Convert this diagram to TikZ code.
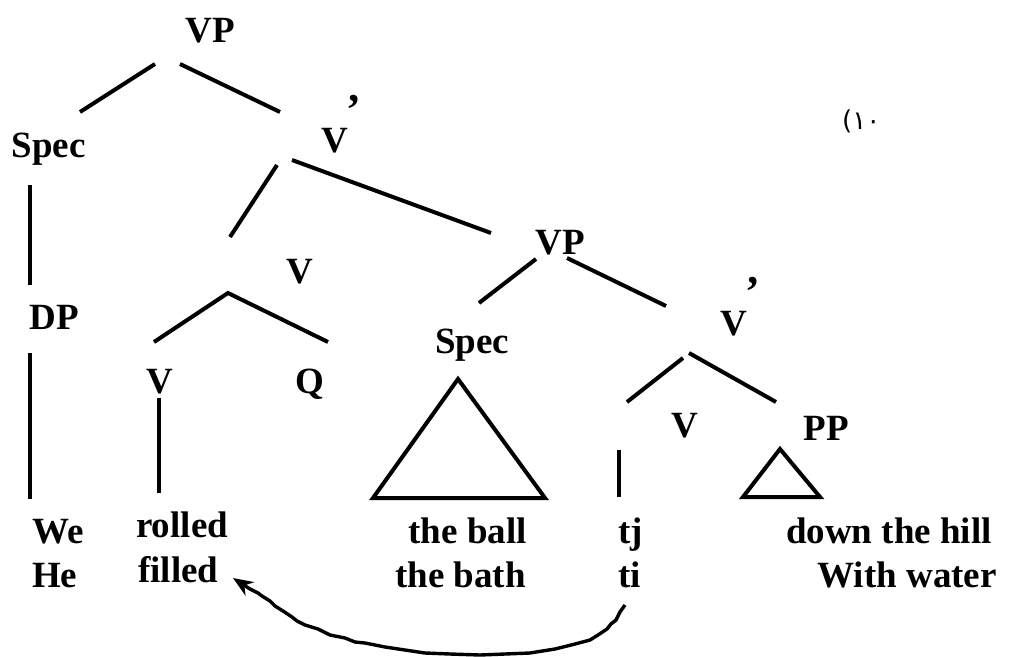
\documentclass[tikz,border=0pt]{standalone}
\usepackage{fontspec}
\setmainfont{Liberation Serif}
\newfontfamily\numfont{DejaVu Sans}
\usetikzlibrary{arrows.meta}
\begin{document}
\begin{tikzpicture}[x=1pt,y=-1pt,
  lbl/.style={inner sep=0pt,font=\fontsize{37}{40}\selectfont\bfseries,anchor=base},
  prm/.style={inner sep=0pt,font=\fontsize{44}{48}\selectfont\bfseries,anchor=base},
  edge/.style={line width=4pt},
  tri/.style={line width=4pt,line join=miter},
  mv/.style={line width=3.4pt,line join=round,-{Stealth[length=20pt,width=16pt]}}]
\useasboundingbox (0,0) rectangle (1009,656);
% labels
\node[lbl] (vp1) at (210,42) {VP};
\node[lbl] (spec1) at (48.5,157) {Spec};
\node[lbl] (vbar1) at (335,152) {V};
\node[prm] (pr1) at (354,124) {\symbol{"27}};
\node[inner sep=0pt,anchor=base west,font=\numfont\fontsize{26}{30}\selectfont] (num) at (842,129) {(١٠};
\node[lbl] (v2) at (300,283) {V};
\node[lbl] (vp2) at (560,254) {VP};
\node[lbl] (dp) at (54,329) {DP};
\node[lbl] (v3) at (160,393) {V};
\node[lbl] (q) at (310,393) {Q};
\node[lbl] (spec2) at (472,353) {Spec};
\node[lbl] (vbar2) at (734,335) {V};
\node[prm] (pr2) at (753,306) {\symbol{"27}};
\node[lbl] (v4) at (685,437) {V};
\node[lbl] (pp) at (826,440) {PP};
\node[lbl,anchor=base west] (we) at (32,543) {We};
\node[lbl,anchor=base west] (he) at (32,587) {He};
\node[lbl,anchor=base west] (rolled) at (136,537) {rolled};
\node[lbl,anchor=base west] (filled) at (138,582) {filled};
\node[lbl,anchor=base east] (ball) at (527,543) {the ball};
\node[lbl,anchor=base east] (bath) at (526,587) {the bath};
\node[lbl,anchor=base west] (tj) at (618,543) {tj};
\node[lbl,anchor=base west] (ti) at (618,587) {ti};
\node[lbl,anchor=base east] (hill) at (992,543) {down the hill};
\node[lbl,anchor=base east] (water) at (997,587) {With water};
% line end points
\coordinate (a1) at (155,64);  \coordinate (a2) at (80,112);
\coordinate (b1) at (180,64);  \coordinate (b2) at (280,112);
\coordinate (c1) at (30,185);  \coordinate (c2) at (30,285);
\coordinate (d1) at (30,353);  \coordinate (d2) at (30,499);
\coordinate (e1) at (277,165); \coordinate (e2) at (230,237);
\coordinate (f1) at (292,160); \coordinate (f2) at (491,233);
\coordinate (g0) at (228,293); \coordinate (g1) at (154,342); \coordinate (g2) at (328,342);
\coordinate (h1) at (159,398); \coordinate (h2) at (159,493);
\coordinate (i1) at (536,259); \coordinate (i2) at (479,303);
\coordinate (j1) at (567,258); \coordinate (j2) at (666,306);
\coordinate (k1) at (683,358); \coordinate (k2) at (627,402);
\coordinate (l1) at (689,353); \coordinate (l2) at (776,402);
\coordinate (m1) at (619,450); \coordinate (m2) at (619,497);
\coordinate (t1) at (458,379); \coordinate (t2) at (373,498); \coordinate (t3) at (545,498);
\coordinate (s1) at (780,449); \coordinate (s2) at (743,497); \coordinate (s3) at (820,497);
% tree lines
\draw[edge] (a1) -- (a2);
\draw[edge] (b1) -- (b2);
\draw[edge] (c1) -- (c2);
\draw[edge] (d1) -- (d2);
\draw[edge] (e1) -- (e2);
\draw[edge] (f1) -- (f2);
\draw[edge,line join=miter] (g1) -- (g0) -- (g2);
\draw[edge] (h1) -- (h2);
\draw[edge] (i1) -- (i2);
\draw[edge] (j1) -- (j2);
\draw[edge] (k1) -- (k2);
\draw[edge] (l1) -- (l2);
\draw[edge] (m1) -- (m2);
\draw[tri] (t1) -- (t2) -- (t3) -- cycle;
\draw[tri] (s1) -- (s2) -- (s3) -- cycle;
% movement arrow
\coordinate (from) at (625,605);
\coordinate (to) at (233,578);
\draw[mv] (from) -- (620,612) -- (616,620) -- (611,624) -- (607,629) -- (598,635) -- (590,640) -- (575,644) -- (555,649) -- (530,653) -- (505,654) -- (480,655) -- (450,654) -- (425,653) -- (405,650) -- (385,647) -- (365,643) -- (355,642) -- (345,638) -- (330,635) -- (318,629) -- (305,625) -- (297,621) -- (292,617) -- (283,611) -- (275,606) -- (270,601) -- (262,596) -- (258,593) -- (250,589) -- (to);
\end{tikzpicture}
\end{document}
